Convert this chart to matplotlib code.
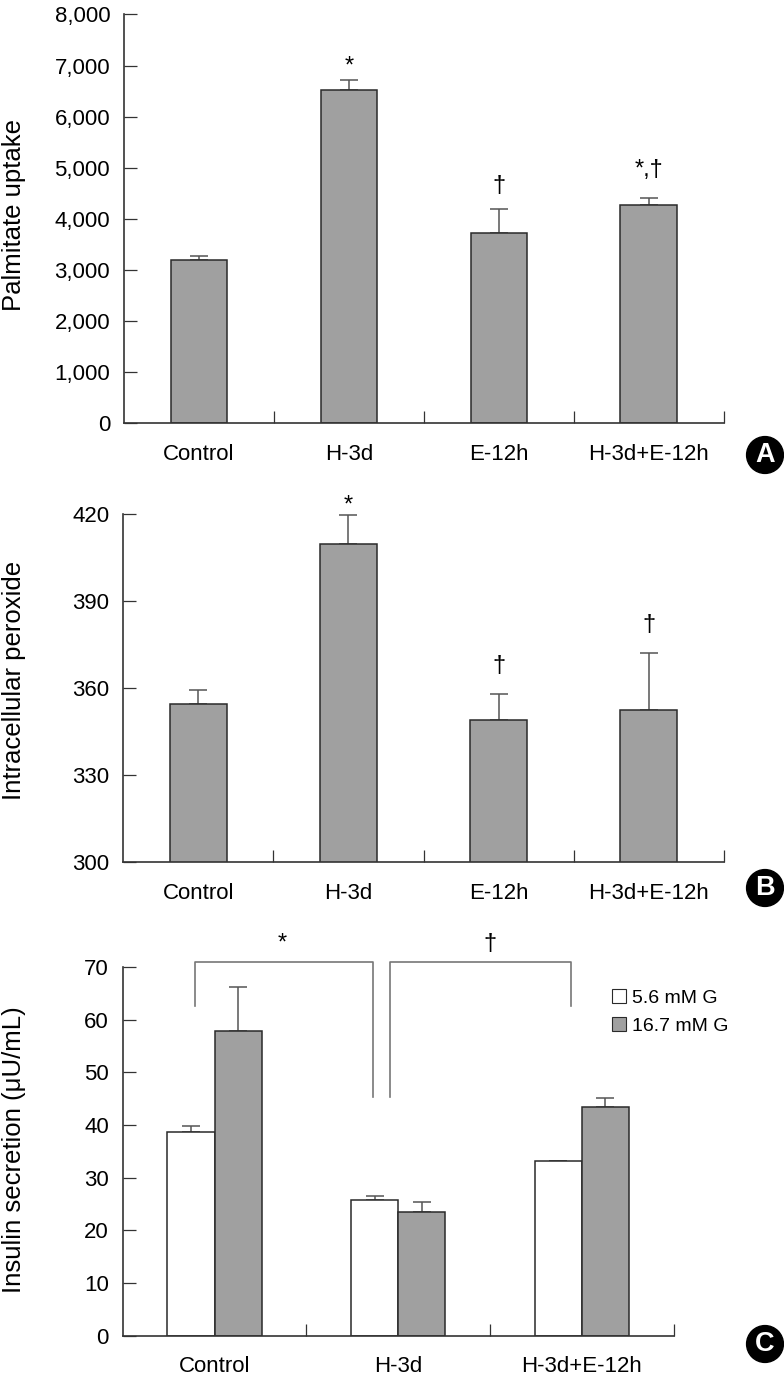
import numpy as np
import matplotlib
matplotlib.use('Agg')
import matplotlib.pyplot as plt
from matplotlib.ticker import StrMethodFormatter, FixedLocator
from matplotlib.patches import Patch

plt.rcParams['font.family'] = ['Liberation Sans', 'DejaVu Sans']

# 数据 A: palmitate uptake
groups_ab = ['Control', 'H-3d', 'E-12h', 'H-3d+E-12h']
palm_mean = [3200, 6520, 3720, 4280]
palm_err = [70, 205, 470, 130]
palm_mark = ['', '*', '\u2020', '*,\u2020']

# 数据 B: intracellular peroxide
perox_mean = [354.4, 409.8, 348.9, 352.4]
perox_err = [4.9, 10.0, 9.1, 19.8]
perox_mark = ['', '*', '\u2020', '\u2020']

# 数据 C: insulin secretion
groups_c = ['Control', 'H-3d', 'H-3d+E-12h']
ins_low = [38.7, 25.75, 33.1]
ins_low_err = [1.1, 0.75, 0.15]
ins_high = [57.8, 23.5, 43.5]
ins_high_err = [8.5, 1.8, 1.6]
series_c = ['5.6 mM G', '16.7 mM G']

gray = '#a0a0a0'
edge = '#2a2a2a'
ecol = '#555555'
tick_fs = 16
lab_fs = 18.5
mark_fs = 17

fig = plt.figure(figsize=(7.84, 13.79), dpi=100)


def style_axis(ax, n):
    ax.spines['top'].set_visible(False)
    ax.spines['right'].set_visible(False)
    for s in ['left', 'bottom']:
        ax.spines[s].set_color('#333333')
        ax.spines[s].set_linewidth(1.2)
    ax.set_xlim(-0.5, n - 0.5)
    ax.xaxis.set_major_locator(FixedLocator(np.arange(n)))
    ax.xaxis.set_minor_locator(FixedLocator(np.arange(n) + 0.5))
    ax.tick_params(axis='x', which='major', length=0, pad=15, labelsize=tick_fs)
    ax.tick_params(axis='x', which='minor', direction='in', length=9, width=0.9, color='#333333')
    ax.tick_params(axis='y', direction='in', length=9, width=0.9, color='#333333',
                   pad=10, labelsize=tick_fs)


def panel_badge(x, y, letter):
    fig.text(x, y, letter, color='white', fontsize=19.5, fontweight='bold',
             ha='center', va='center',
             bbox=dict(boxstyle='circle,pad=0.2', fc='black', ec='black'))


def mark_bars(ax, xs, means, errs, marks, offsets):
    # 在误差棒上方标注显著性符号
    for i in range(len(xs)):
        if marks[i]:
            ax.annotate(marks[i], (xs[i], means[i] + errs[i]), xytext=(0, offsets[i]),
                        textcoords='offset points', ha='center', va='baseline',
                        fontsize=mark_fs, annotation_clip=False)


# ---------- A ----------
axA = fig.add_axes([0.1582, 0.6929, 0.7650, 0.2966])
x = np.arange(len(groups_ab))
axA.bar(x, palm_mean, width=0.378, color=gray, edgecolor=edge, linewidth=1.1, zorder=2)
axA.errorbar(x, palm_mean, yerr=[np.zeros(4), palm_err], fmt='none', ecolor=ecol,
             elinewidth=1.1, capsize=6.4, capthick=1.1, zorder=1)
mark_bars(axA, x, palm_mean, palm_err, palm_mark, [0, 5, 12.6, 15.8])
axA.set_ylim(0, 8000)
axA.set_yticks(np.arange(0, 8001, 1000))
axA.yaxis.set_major_formatter(StrMethodFormatter('{x:,.0f}'))
axA.set_xticks(x)
axA.set_xticklabels(groups_ab)
style_axis(axA, 4)
fig.text(14 / 784, 1 - 215 / 1379, 'Palmitate uptake', rotation=90, ha='center', va='center',
         fontsize=lab_fs)
panel_badge(765 / 784, 1 - 455 / 1379, 'A')

# ---------- B ----------
axB = fig.add_axes([0.1573, 0.3749, 0.7659, 0.2524])
axB.bar(x, perox_mean, width=0.378, color=gray, edgecolor=edge, linewidth=1.1, zorder=2)
axB.errorbar(x, perox_mean, yerr=[np.zeros(4), perox_err], fmt='none', ecolor=ecol,
             elinewidth=1.1, capsize=6.4, capthick=1.1, zorder=1)
mark_bars(axB, x, perox_mean, perox_err, perox_mark, [0, 2.5, 15.8, 15.8])
axB.set_ylim(300, 420)
axB.set_yticks(np.arange(300, 421, 30))
axB.set_xticks(x)
axB.set_xticklabels(groups_ab)
style_axis(axB, 4)
fig.text(14 / 784, 1 - 680 / 1379, 'Intracellular peroxide', rotation=90, ha='center',
         va='center', fontsize=lab_fs)
panel_badge(765 / 784, 1 - 888 / 1379, 'B')

# ---------- C ----------
axC = fig.add_axes([0.1565, 0.0315, 0.7027, 0.2671])
xc = np.arange(len(groups_c))
w = 0.257
axC.bar(xc - w / 2, ins_low, width=w, color='white', edgecolor=edge, linewidth=1.1, zorder=2)
axC.bar(xc + w / 2, ins_high, width=w, color=gray, edgecolor=edge, linewidth=1.1, zorder=2)
axC.errorbar(xc - w / 2, ins_low, yerr=[np.zeros(3), ins_low_err], fmt='none', ecolor=ecol,
             elinewidth=1.1, capsize=6.4, capthick=1.1, zorder=1)
axC.errorbar(xc + w / 2, ins_high, yerr=[np.zeros(3), ins_high_err], fmt='none', ecolor=ecol,
             elinewidth=1.1, capsize=6.4, capthick=1.1, zorder=1)
axC.set_ylim(0, 70)
axC.set_yticks(np.arange(0, 71, 10))
axC.set_xticks(xc)
axC.set_xticklabels(groups_c)
style_axis(axC, 3)

# 显著性括号
top = 70.9
lc = '#777777'
axC.plot([xc[0] - 0.107, xc[0] - 0.107, xc[1] - 0.139, xc[1] - 0.139],
         [62.6, top, top, 45.3], color=lc, lw=1.2, clip_on=False)
axC.plot([xc[1] - 0.046, xc[1] - 0.046, xc[2] - 0.057, xc[2] - 0.057],
         [45.3, top, top, 62.6], color=lc, lw=1.2, clip_on=False)
axC.text((xc[0] + xc[1]) / 2 - 0.13, 74.5, '*', ha='center', va='center', fontsize=mark_fs)
axC.text((xc[1] + xc[2]) / 2, 74.5, '\u2020', ha='center', va='center', fontsize=mark_fs)

axC.legend(handles=[Patch(fc='white', ec=edge, lw=0.8), Patch(fc=gray, ec=edge, lw=0.8)],
           labels=series_c, loc='upper left', bbox_to_anchor=(0.874, 0.962), frameon=False,
           fontsize=14, handlelength=0.7, handleheight=0.7, handletextpad=0.35,
           labelspacing=0.55, borderaxespad=0)
fig.text(14 / 784, 1 - 1150 / 1379, 'Insulin secretion (\u03bcU/mL)', rotation=90, ha='center',
         va='center', fontsize=lab_fs)
panel_badge(765 / 784, 1 - 1344 / 1379, 'C')

plt.savefig('out.png', dpi=100)
